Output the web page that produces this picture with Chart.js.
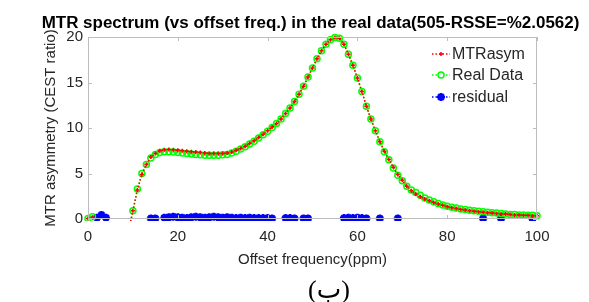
<!DOCTYPE html>
<html>
<head>
<meta charset="utf-8">
<script src="https://cdn.jsdelivr.net/npm/chart.js@4.4.1/dist/chart.umd.min.js"></script>
<style>
  html, body { margin: 0; padding: 0; background: #fff; }
  canvas { display: block; }
</style>
</head>
<body>
<canvas id="mtrChart" width="589" height="302"></canvas>
<script>
// offset frequencies (ppm)
const offsets = [
  0, 1, 2, 3, 4, 5, 6, 7, 8, 9,
  10, 11, 12, 13, 14, 15, 16, 17, 18, 19,
  20, 21, 22, 23, 24, 25, 26, 27, 28, 29,
  30, 31, 32, 33, 34, 35, 36, 37, 38, 39,
  40, 41, 42, 43, 44, 45, 46, 47, 48, 49,
  50, 51, 52, 53, 54, 55, 56, 57, 58, 59,
  60, 61, 62, 63, 64, 65, 66, 67, 68, 69,
  70, 71, 72, 73, 74, 75, 76, 77, 78, 79,
  80, 81, 82, 83, 84, 85, 86, 87, 88, 89,
  90, 91, 92, 93, 94, 95, 96, 97, 98, 99,
  100
];

// measured MTR asymmetry (green circles)
const realData = [
  0.05, 0.25, null, null, null, null, null, null, null, -1.4,
  0.9, 3.3, 5.0, 6.0, 6.7, 7.1, 7.3, 7.4, 7.4, 7.35,
  7.3, 7.25, 7.2, 7.15, 7.1, 7.05, 7.0, 7.0, 7.0, 7.0,
  7.05, 7.1, 7.25, 7.45, 7.7, 7.95, 8.25, 8.55, 8.9, 9.25,
  9.65, 10.05, 10.5, 11.0, 11.6, 12.2, 12.9, 13.7, 14.6, 15.6,
  16.6, 17.6, 18.5, 19.2, 19.7, 19.95, 19.85, 19.2, 18.1, 16.9,
  15.5, 14.0, 12.4, 11.0, 9.7, 8.5, 7.4, 6.5, 5.6, 4.8,
  4.2, 3.6, 3.2, 2.9, 2.6, 2.3, 2.1, 1.9, 1.7, 1.55,
  1.4, 1.3, 1.2, 1.1, 1.05, 0.95, 0.9, 0.85, 0.8, 0.75,
  0.7, 0.65, 0.6, 0.55, 0.5, 0.5, 0.45, 0.45, 0.4, 0.4,
  0.35
];

// fitted MTRasym (red plus)
const mtrAsym = [
  0.05, 0.2, null, null, null, null, null, null, null, -1.4,
  0.9, 3.2, 4.9, 6.0, 6.8, 7.2, 7.5, 7.6, 7.65, 7.6,
  7.55, 7.5, 7.45, 7.4, 7.35, 7.3, 7.25, 7.2, 7.2, 7.2,
  7.2, 7.25, 7.35, 7.55, 7.75, 8.0, 8.3, 8.6, 8.95, 9.3,
  9.7, 10.1, 10.5, 11.0, 11.6, 12.2, 12.9, 13.7, 14.6, 15.6,
  16.6, 17.6, 18.5, 19.2, 19.7, 19.95, 19.85, 19.2, 18.1, 16.9,
  15.5, 14.0, 12.4, 11.0, 9.7, 8.5, 7.45, 6.55, 5.7, 4.9,
  4.25, 3.6, 3.1, 2.75, 2.45, 2.2, 2.0, 1.8, 1.65, 1.5,
  1.35, 1.25, 1.15, 1.05, 1.0, 0.9, 0.85, 0.8, 0.75, 0.7,
  0.65, 0.6, 0.55, 0.55, 0.5, 0.45, 0.45, 0.4, 0.4, 0.35,
  0.35
];

// residual (blue stars), only the non-negative ones are visible
const residual = [
  null, null, 0.15, 0.45, 0.15, null, null, null, null, null,
  null, null, null, null, 0.05, 0.05, null, 0.15, 0.2, 0.25,
  0.2, 0.15, 0.1, 0.2, 0.25, 0.2, 0.15, 0.2, 0.25, 0.2,
  0.15, 0.2, 0.15, 0.1, 0.15, 0.1, 0.15, 0.1, 0.1, 0.1,
  0.1, 0.05, null, null, 0.1, 0.1, 0.05, null, 0.05, 0.05,
  null, null, null, null, null, null, null, 0.1, 0.15, 0.1,
  0.15, 0.1, 0.05, null, null, 0.05, null, null, null, 0.05,
  null, null, null, null, null, null, null, null, null, null,
  null, null, null, null, null, null, null, null, 0.05, null,
  null, null, 0.05, null, null, null, null, null, null, 0.05,
  null
];

const xTicks = [0, 20, 40, 60, 80, 100];
const yTicks = [0, 5, 10, 15, 20];

const titleText = 'MTR spectrum (vs offset freq.) in the real data(505-RSSE=%2.0562)';
const xLabel = 'Offset frequency(ppm)';
const yLabel = 'MTR asymmetry (CEST ratio)';
const legendNames = ['MTRasym', 'Real Data', 'residual'];

const FONT = "Arial, 'Liberation Sans', sans-serif";
const TEXT = '#262626';
const AXIS = '#bdbdbd';

function toPoints(ys) {
    return offsets.map((x, i) => ({ x: x, y: ys[i] }));
}

const seriesStyle = [
    { color: '#ff0000', point: 'cross', radius: 2, border: 1.5 },
    { color: '#00ff00', point: 'circle', radius: 3, border: 1.5 },
    { color: '#0000ff', point: 'star', radius: 4, border: 2.5 }
];

function drawMarker(ctx, style, x, y) {
    Chart.helpers.drawPoint(ctx, {
        pointStyle: style.point,
        radius: style.radius,
        borderWidth: style.border,
        rotation: 0
    }, x, y);
}

const decorPlugin = {
    id: 'decor',
    afterDraw(chart) {
        const ctx = chart.ctx;
        const area = chart.chartArea;
        const xs = chart.scales.x;
        const ys = chart.scales.y;
        ctx.save();

        // axes box
        ctx.strokeStyle = AXIS;
        ctx.lineWidth = 1;
        ctx.strokeRect(area.left + 0.5, area.top + 0.5, area.right - area.left - 1, area.bottom - area.top - 1);

        // inward ticks
        ctx.beginPath();
        xTicks.forEach(v => {
            const px = Math.round(xs.getPixelForValue(v)) + 0.5;
            ctx.moveTo(px, area.bottom);
            ctx.lineTo(px, area.bottom - 4);
            ctx.moveTo(px, area.top);
            ctx.lineTo(px, area.top + 4);
        });
        yTicks.forEach(v => {
            const py = Math.round(ys.getPixelForValue(v)) + 0.5;
            ctx.moveTo(area.left, py);
            ctx.lineTo(area.left + 4, py);
            ctx.moveTo(area.right, py);
            ctx.lineTo(area.right - 4, py);
        });
        ctx.stroke();

        const midX = (area.left + area.right) / 2;
        const midY = (area.top + area.bottom) / 2;

        // title
        ctx.fillStyle = '#000';
        ctx.font = 'bold 16px ' + FONT;
        ctx.textAlign = 'center';
        ctx.textBaseline = 'alphabetic';
        ctx.save();
        ctx.translate(midX - 2, 28);
        ctx.scale(1.06, 1);
        ctx.fillText(titleText, 0, 0);
        ctx.restore();

        // axis labels
        ctx.fillStyle = TEXT;
        ctx.font = '15px ' + FONT;
        ctx.fillText(xLabel, midX, 264);
        ctx.save();
        ctx.translate(55, midY);
        ctx.rotate(-Math.PI / 2);
        ctx.fillText(yLabel, 0, 0);
        ctx.restore();

        // caption
        ctx.fillStyle = '#000';
        ctx.font = "26px 'Liberation Serif', 'DejaVu Sans', serif";
        ctx.fillText('(ب)', 329, 298);

        // legend
        ctx.font = '16px ' + FONT;
        ctx.textAlign = 'left';
        ctx.textBaseline = 'middle';
        const rows = [54, 75, 97];
        legendNames.forEach((name, i) => {
            const st = seriesStyle[i];
            ctx.strokeStyle = st.color;
            ctx.fillStyle = st.color;
            ctx.lineWidth = 1.5;
            ctx.setLineDash([1.5, 2]);
            ctx.beginPath();
            ctx.moveTo(432, rows[i]);
            ctx.lineTo(450, rows[i]);
            ctx.stroke();
            ctx.setLineDash([]);
            ctx.lineWidth = st.border;
            ctx.fillStyle = st.point === 'circle' ? '#fff' : st.color;
            drawMarker(ctx, st, 441, rows[i]);
            ctx.fillStyle = TEXT;
            ctx.fillText(name, 452, rows[i] + 1);
        });

        ctx.restore();
    }
};

function makeDataset(label, ys, st) {
    const hollow = st.point === 'circle';
    return {
        label: label,
        data: toPoints(ys),
        borderColor: st.color,
        backgroundColor: hollow ? 'rgba(255,255,255,0)' : st.color,
        borderWidth: 1.5,
        borderDash: [1.5, 2],
        pointStyle: st.point,
        pointRadius: st.radius,
        pointBorderWidth: st.border,
        pointBorderColor: st.color,
        pointBackgroundColor: hollow ? 'rgba(255,255,255,0)' : st.color,
        spanGaps: false,
        tension: 0,
        clip: { left: 6, right: 6, top: 6, bottom: 2 }
    };
}

new Chart(document.getElementById('mtrChart'), {
    type: 'line',
    data: {
        datasets: [
            makeDataset(legendNames[0], mtrAsym, seriesStyle[0]),
            makeDataset(legendNames[1], realData, seriesStyle[1]),
            makeDataset(legendNames[2], residual, seriesStyle[2])
        ]
    },
    options: {
        responsive: false,
        animation: false,
        devicePixelRatio: 1,
        layout: { padding: { left: 48, right: 52, top: 37, bottom: 53 } },
        plugins: {
            legend: { display: false },
            tooltip: { enabled: false },
            title: { display: false }
        },
        scales: {
            x: {
                type: 'linear',
                min: 0,
                max: 100,
                grid: { display: false, drawTicks: false },
                border: { display: false },
                afterFit: s => { s.height = 30; },
                afterBuildTicks: s => { s.ticks = xTicks.map(v => ({ value: v })); },
                ticks: { color: TEXT, font: { family: FONT, size: 15 }, padding: 9, maxRotation: 0 }
            },
            y: {
                min: 0,
                max: 20,
                grid: { display: false, drawTicks: false },
                border: { display: false },
                afterFit: s => { s.width = 40; },
                afterBuildTicks: s => { s.ticks = yTicks.map(v => ({ value: v })); },
                ticks: { color: TEXT, font: { family: FONT, size: 15 }, padding: 5 }
            }
        }
    },
    plugins: [decorPlugin]
});
</script>
</body>
</html>
